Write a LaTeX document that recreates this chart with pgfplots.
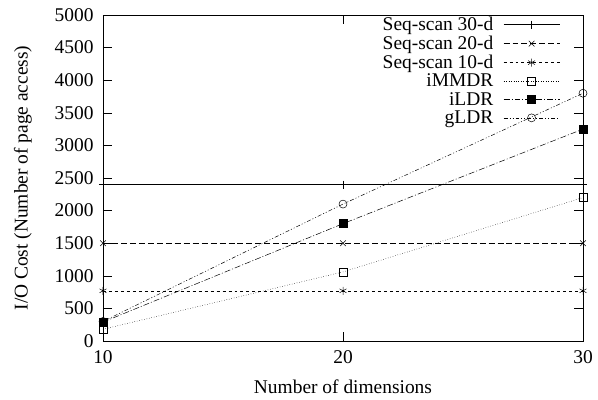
\documentclass[border=0pt]{standalone}
\usepackage{pgfplots}
\pgfplotsset{compat=1.18}
\usepackage{fontspec}
\setmainfont{Liberation Serif}
\begin{document}
\begin{tikzpicture}
\useasboundingbox (-103bp,-59bp) rectangle (495bp,341bp);
\begin{axis}[
  at={(0,0)}, anchor=south west,
  scale only axis, width=480bp, height=326bp,
  xmin=10, xmax=30, ymin=0, ymax=5000,
  xtick={10,20,30}, ytick={0,500,...,5000},
  tick align=inside, major tick length=9bp,
  every tick/.style={black, line width=0.6pt},
  axis line style={line width=0.8pt},
  font=\fontsize{19.5}{21}\selectfont,
  /pgf/number format/assume math mode=true,
  /pgf/number format/set thousands separator={},
  yticklabel style={anchor=east, xshift=-6bp},
  xticklabel style={anchor=north, yshift=-6bp},
  xlabel={Number of dimensions},
  ylabel={I/O Cost (Number of page access)},
  every axis x label/.style={at={(axis description cs:0.5,-0.14)}, anchor=center},
  every axis y label/.style={at={(axis description cs:-0.167,0.5)}, anchor=center, rotate=90},
  legend cell align=right,
  legend plot pos=right,
  legend style={draw=none, fill=none, at={(458bp,327bp)}, anchor=north east,
    row sep=0bp, column sep=8bp, font=\fontsize{19.5}{19.5}\selectfont, inner sep=1bp},
  every axis plot/.append style={black, line width=0.5pt, mark size=4bp},
  legend image code/.code={\draw[mark repeat=2,mark phase=2,#1] plot coordinates {(0bp,0bp) (28bp,0bp) (56bp,0bp)};},
]
\addplot[solid, mark=+, mark options={solid}] coordinates {(10,2400) (20,2400) (30,2400)};
\addlegendentry{Seq-scan 30-d}
\addplot[dash pattern=on 6pt off 3pt, mark=x, mark options={solid}] coordinates {(10,1500) (20,1500) (30,1500)};
\addlegendentry{Seq-scan 20-d}
\addplot[dash pattern=on 3pt off 3pt, mark=asterisk, mark options={solid}] coordinates {(10,770) (20,770) (30,770)};
\addlegendentry{Seq-scan 10-d}
\addplot[dotted, mark=square, mark options={solid}] coordinates {(10,180) (20,1060) (30,2200)};
\addlegendentry{iMMDR}
\addplot[dash pattern=on 6pt off 2pt on 1pt off 2pt, mark=square*, mark options={solid}] coordinates {(10,290) (20,1800) (30,3250)};
\addlegendentry{iLDR}
\addplot[dash pattern=on 4pt off 2pt on 1pt off 2pt on 1pt off 2pt, mark=o, mark options={solid}] coordinates {(10,300) (20,2100) (30,3800)};
\addlegendentry{gLDR}
\end{axis}
\end{tikzpicture}
\end{document}
